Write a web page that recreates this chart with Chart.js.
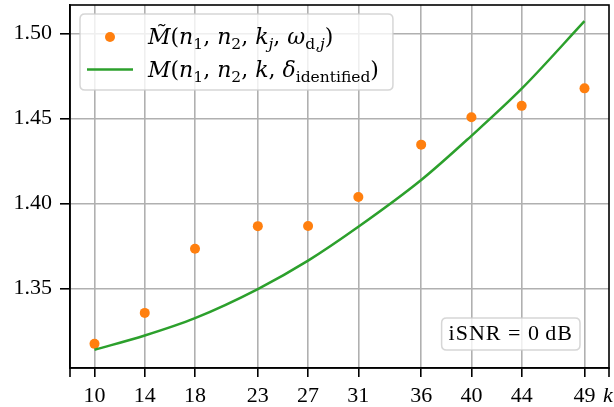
<!DOCTYPE html>
<html><head><meta charset="utf-8">
<script src="https://cdn.jsdelivr.net/npm/chart.js@4"></script>
<style>html,body{margin:0;padding:0;background:#fff;} canvas{display:block;}</style>
</head><body>
<canvas id="c" width="614" height="407"></canvas>
<script>
// ---- data ----
const kValues      = [10, 14, 18, 23, 27, 31, 36, 40, 44, 49];
const mTildeValues = [1.3175, 1.3357, 1.3734, 1.3867, 1.3868, 1.4038, 1.4346, 1.4507, 1.4574, 1.4677];
const mIdentValues = [1.3140, 1.3224, 1.3326, 1.3497, 1.3664, 1.3863, 1.4138, 1.4398, 1.4675, 1.5072];
const xTickValues  = [10, 14, 18, 23, 27, 31, 36, 40, 44, 49];
const yTickValues  = [1.35, 1.40, 1.45, 1.50];
const xLimits = [8.05, 50.95];
const yLimits = [1.3033, 1.5167];
const xAxisLabel = 'k';
const annotationText = 'iSNR = 0\u2009dB';

const FONT = '"Liberation Serif", "DejaVu Serif", serif';
const MATHFONT = '"DejaVu Serif", "Liberation Serif", serif';
const SIZE = 22, LSIZE = 22, SUB = 15.5;
const ORANGE = '#ff7f0e', GREEN = '#2ca02c', GRID = '#b0b0b0';

const legendEntries = [
  { kind: 'point', runs: [
    {t:'M\u0303',it:1},{t:'('},{t:'n',it:1},{t:'1',sub:1},{t:', '},{t:'n',it:1},{t:'2',sub:1},{t:', '},
    {t:'k',it:1},{t:'j',it:1,sub:1},{t:', '},{t:'\u03c9',it:1},{t:'d,',sub:1},{t:'j',it:1,sub:1},{t:')'}]},
  { kind: 'line', runs: [
    {t:'M',it:1},{t:'('},{t:'n',it:1},{t:'1',sub:1},{t:', '},{t:'n',it:1},{t:'2',sub:1},{t:', '},
    {t:'k',it:1},{t:', '},{t:'\u03b4',it:1},{t:'identified',sub:1},{t:')'}]}
];

function setRunFont(ctx, r){ ctx.font = (r.it ? 'italic ' : '') + (r.sub ? SUB : LSIZE) + 'px ' + MATHFONT; }
function measureRuns(ctx, runs){ let w=0; for(const r of runs){ setRunFont(ctx,r); w += ctx.measureText(r.t).width; } return w; }
function drawRuns(ctx, runs, x, y){
  for(const r of runs){ setRunFont(ctx,r); ctx.fillText(r.t, x, y + (r.sub ? 5 : 0)); x += ctx.measureText(r.t).width; }
  return x;
}
function roundRect(ctx,x,y,w,h,r){
  ctx.beginPath(); ctx.moveTo(x+r,y); ctx.lineTo(x+w-r,y); ctx.quadraticCurveTo(x+w,y,x+w,y+r);
  ctx.lineTo(x+w,y+h-r); ctx.quadraticCurveTo(x+w,y+h,x+w-r,y+h); ctx.lineTo(x+r,y+h);
  ctx.quadraticCurveTo(x,y+h,x,y+h-r); ctx.lineTo(x,y+r); ctx.quadraticCurveTo(x,y,x+r,y); ctx.closePath();
}

const framePlugin = {
  id: 'frame',
  afterDatasetsDraw(chart){
    const {ctx, chartArea: a} = chart;
    const xs = chart.scales.x;
    ctx.save();
    ctx.strokeStyle = '#000'; ctx.lineWidth = 1.6;
    ctx.strokeRect(a.left, a.top, a.right - a.left, a.bottom - a.top);
    ctx.beginPath();
    for (const v of xLimits){ const px = Math.round(xs.getPixelForValue(v)); ctx.moveTo(px, a.bottom); ctx.lineTo(px, a.bottom + 9); }
    ctx.stroke();
    ctx.fillStyle = '#000'; ctx.font = 'italic ' + SIZE + 'px ' + FONT;
    ctx.textAlign = 'center'; ctx.textBaseline = 'alphabetic';
    ctx.fillText(xAxisLabel, a.right - 1, a.bottom + 34);
    ctx.restore();
  },
  afterDraw(chart){
    const {ctx, chartArea: a} = chart;
    ctx.save();
    ctx.textAlign = 'left'; ctx.textBaseline = 'alphabetic'; ctx.fillStyle = '#000';
    const lx = a.left + 10, ly = a.top + 9, textX = a.left + 78;
    let maxW = 0; for (const e of legendEntries) maxW = Math.max(maxW, measureRuns(ctx, e.runs));
    const lw = textX + maxW + 14 - lx, lh = 76;
    roundRect(ctx, lx, ly, lw, lh, 5);
    ctx.fillStyle = 'rgba(255,255,255,0.8)'; ctx.fill();
    ctx.strokeStyle = 'rgba(204,204,204,0.8)'; ctx.lineWidth = 1.5; ctx.stroke();
    const baselines = [ly + 30, ly + 62.5];
    legendEntries.forEach((e, i) => {
      const by = baselines[i], cy = by - 7;
      if (e.kind === 'point'){
        ctx.fillStyle = ORANGE; ctx.beginPath(); ctx.arc(a.left + 40, cy, 5, 0, Math.PI*2); ctx.fill();
      } else {
        ctx.strokeStyle = GREEN; ctx.lineWidth = 2.5; ctx.beginPath();
        ctx.moveTo(a.left + 17, cy); ctx.lineTo(a.left + 63, cy); ctx.stroke();
      }
      ctx.fillStyle = '#000';
      drawRuns(ctx, e.runs, textX, by);
    });
    ctx.font = SIZE + 'px ' + FONT;
    ctx.letterSpacing = '1px';
    const tw = ctx.measureText(annotationText).width;
    const bx2 = a.right - 29, by2 = a.bottom - 18, bw = tw + 14, bh = 32;
    roundRect(ctx, bx2 - bw, by2 - bh, bw, bh, 5);
    ctx.fillStyle = 'rgba(255,255,255,0.8)'; ctx.fill();
    ctx.strokeStyle = 'rgba(204,204,204,0.8)'; ctx.lineWidth = 1.5; ctx.stroke();
    ctx.fillStyle = '#000'; ctx.textAlign = 'left';
    ctx.fillText(annotationText, bx2 - bw + 7, by2 - 10);
    ctx.restore();
  }
};

const tickFont = { family: FONT, size: SIZE };
new Chart(document.getElementById('c'), {
  type: 'scatter',
  data: {
    datasets: [
      { label: 'M(n1, n2, k, δidentified)', data: kValues.map((k,i)=>({x:k, y:mIdentValues[i]})),
        showLine: true, borderColor: GREEN, borderWidth: 2.5, pointRadius: 0, fill: false,
        cubicInterpolationMode: 'monotone' },
      { label: 'M̃(n1, n2, kj, ωd,j)', data: kValues.map((k,i)=>({x:k, y:mTildeValues[i]})),
        showLine: false, backgroundColor: ORANGE, borderColor: ORANGE, pointRadius: 5, pointBorderWidth: 0 }
    ]
  },
  options: {
    responsive: false, animation: false, devicePixelRatio: 1,
    layout: { padding: { left: 0, right: 5, top: 5, bottom: 0 } },
    plugins: { legend: { display: false }, tooltip: { enabled: false } },
    scales: {
      x: { type: 'linear', min: xLimits[0], max: xLimits[1],
        afterBuildTicks: s => { s.ticks = xTickValues.map(v => ({value: v})); },
        afterFit: s => { s.height = 39; s.paddingLeft = 0; s.paddingRight = 0; },
        ticks: { font: tickFont, color: '#000', padding: 6, maxRotation: 0, autoSkip: false, callback: v => String(v) },
        grid: { color: GRID, lineWidth: 1.6, tickColor: '#000', tickLength: 9, tickWidth: 1.6 },
        border: { display: true, color: '#000', width: 1.6 } },
      y: { type: 'linear', min: yLimits[0], max: yLimits[1],
        afterBuildTicks: s => { s.ticks = yTickValues.map(v => ({value: v})); },
        afterFit: s => { s.width = 70; s.paddingTop = 0; s.paddingBottom = 0; },
        ticks: { font: tickFont, color: '#000', padding: 8, callback: v => v.toFixed(2) },
        grid: { color: GRID, lineWidth: 1.6, tickColor: '#000', tickLength: 10, tickWidth: 1.6 },
        border: { display: true, color: '#000', width: 1.6 } }
    }
  },
  plugins: [framePlugin]
});
</script>
</body></html>
